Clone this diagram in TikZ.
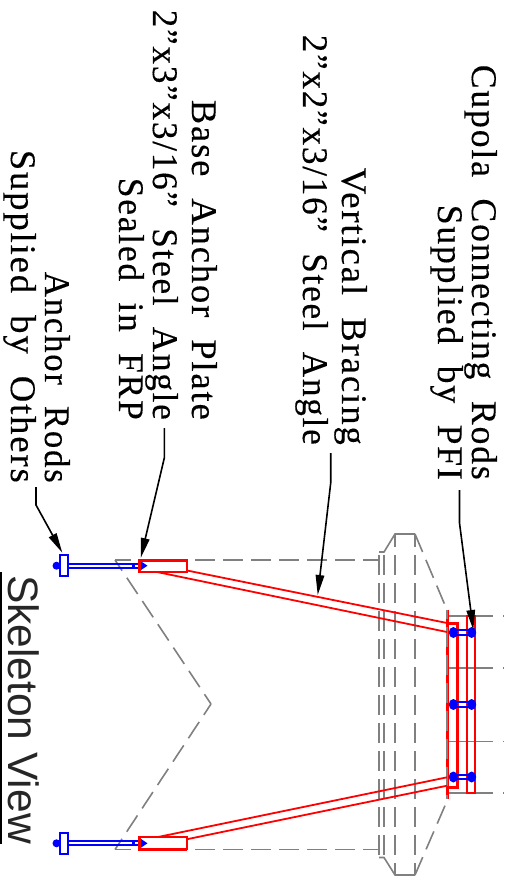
\documentclass[tikz,border=0pt]{standalone}
\usepackage{graphicx}
\usepackage{fontspec}
\setmainfont[LetterSpace=5,WordSpace=2,FakeBold=0.25]{Liberation Serif}
\newfontfamily\titlefont{Liberation Sans}
\usetikzlibrary{arrows.meta}
\newcommand{\fitnote}[2]{\resizebox{#1pt}{\height}{#2}}

\begin{document}
\begin{tikzpicture}
[
    x=1pt, y=-1pt,
    note/.style={anchor=base east, rotate=-90, inner sep=0pt, font=\fontsize{36}{36}\selectfont},
    title/.style={anchor=base west, rotate=-90, inner sep=0pt, text=black!85, font=\titlefont\fontsize{42.5}{42.5}\selectfont},
    leader/.style={draw=black, line width=1.6pt, -{Triangle[length=20pt,width=8.5pt]}},
    hidden/.style={draw=gray, line width=1.6pt, dash pattern=on 19.5pt off 8.5pt},
    outline/.style={draw=gray, line width=1.6pt},
    steel/.style={draw=red, line width=1.8pt},
    heavy/.style={draw=red, line width=3pt},
    rod/.style={draw=blue, line width=1.9pt},
]
\useasboundingbox (0,0) rectangle (504,878);

% hidden outline
\foreach \y in {560,849.5} {
    \draw[hidden, dash phase=4pt] (115,\y) -- (379,\y);
    \draw[hidden, dash phase=6.7pt] (115,\y) -- (211,704);
}
\draw[outline] (379,552) -- (384,552) -- (395,534) -- (415,534);
\draw[outline] (379,857.5) -- (384,857.5) -- (395,875) -- (415,875);
\draw[hidden] (415,534) -- (447,610);
\draw[hidden] (415,875) -- (447,801);
\foreach \x in {379,384}
    \draw[hidden, dash phase=25pt] (\x,552) -- (\x,857.5);
\foreach \x in {395,415}
    \draw[hidden, dash phase=7pt] (\x,534) -- (\x,875);
\foreach \y in {616,668,741.5,793}
    \draw[outline] (447,\y) -- (493,\y) (503,\y) -- (504,\y);

% anchor rods
\foreach \y in {565.7,843.3} {
    \draw[rod] (60,\y-10.5) rectangle (67.7,\y+10.5);
    \draw[rod] (67.7,\y-1.9) -- (140,\y-1.9) (67.7,\y+1.9) -- (140,\y+1.9);
    \fill[blue] (56.5,\y) circle (4pt);
    \fill[blue] (132,\y-3) rectangle (135,\y+3);
    \fill[blue] (140,\y-5) -- (147.5,\y) -- (140,\y+5) -- cycle;
}

% steel
\draw[heavy] (447,610) -- (447,799);
\draw[hidden, dash phase=11pt] (447,610) -- (447,799);
\draw[heavy] (447,623) -- (457,623) -- (457,787) -- (447,787);
\draw[steel] (467,616) rectangle (475.3,793);
\draw[steel] (187,570.5) -- (447,623);
\draw[steel] (157,572) -- (447,632);
\draw[steel] (158,837) -- (447,777.3);
\draw[steel] (188,839) -- (447,785.7);
\draw[steel] (139,560) rectangle (187.3,572);
\draw[heavy] (139,572) -- (139,560) -- (187.3,560);
\draw[steel] (139,837) rectangle (187.3,849.5);
\draw[heavy] (139,837) -- (139,849.5) -- (187.3,849.5);

% bolts
\foreach \y in {632.5,704.5,777} {
    \draw[rod] (454,\y-2.2) -- (471,\y-2.2) (454,\y+2.2) -- (471,\y+2.2);
    \fill[blue] (453.3,\y) ellipse (4.5pt and 5.5pt) (471.7,\y) ellipse (4.5pt and 5.5pt);
}

% labels
\node[note] (cupola) at (472,480) {\fitnote{415}{Cupola Connecting Rods}};
\node[note] (pfi) at (438,480) {\fitnote{275}{Supplied by PFI}};
\node[note] (bracing) at (342,445) {\fitnote{277}{Vertical Bracing}};
\node[note] (angletwo) at (303,445) {\fitnote{410}{2”x2”x3/16” Steel Angle}};
\node[note] (plate) at (192,420) {\fitnote{320}{Base Anchor Plate}};
\node[note] (anglethree) at (153,420) {\fitnote{410}{2”x3”x3/16” Steel Angle}};
\node[note] (frp) at (119,420) {\fitnote{242}{Sealed in FRP}};
\node[note] (rods) at (45,483) {\fitnote{211}{Anchor Rods}};
\node[note] (others) at (11,483) {\fitnote{333}{Supplied by Others}};
\node[title] (view) at (9,575) {Skeleton View};
\draw[draw=black, line width=1.8pt] (0.8,572) -- (0.8,844);

% leaders
\coordinate (pfiend) at (459.5,490);
\coordinate (pfibend) at (459.5,523);
\coordinate (pfitip) at (473.3,630);
\draw[leader] (pfiend) -- (pfibend) -- (pfitip);
\coordinate (bracingend) at (330.7,453);
\coordinate (bracingbend) at (330.7,483);
\coordinate (bracingtip) at (317.7,595);
\draw[leader] (bracingend) -- (bracingbend) -- (bracingtip);
\coordinate (plateend) at (164.3,428);
\coordinate (platebend) at (164.3,458);
\coordinate (platetip) at (140.7,558);
\draw[leader] (plateend) -- (platebend) -- (platetip);
\coordinate (rodsend) at (36,487);
\coordinate (rodsbend) at (36,505);
\coordinate (rodstip) at (62.3,552.7);
\draw[leader] (rodsend) -- (rodsbend) -- (rodstip);
\end{tikzpicture}
\end{document}
